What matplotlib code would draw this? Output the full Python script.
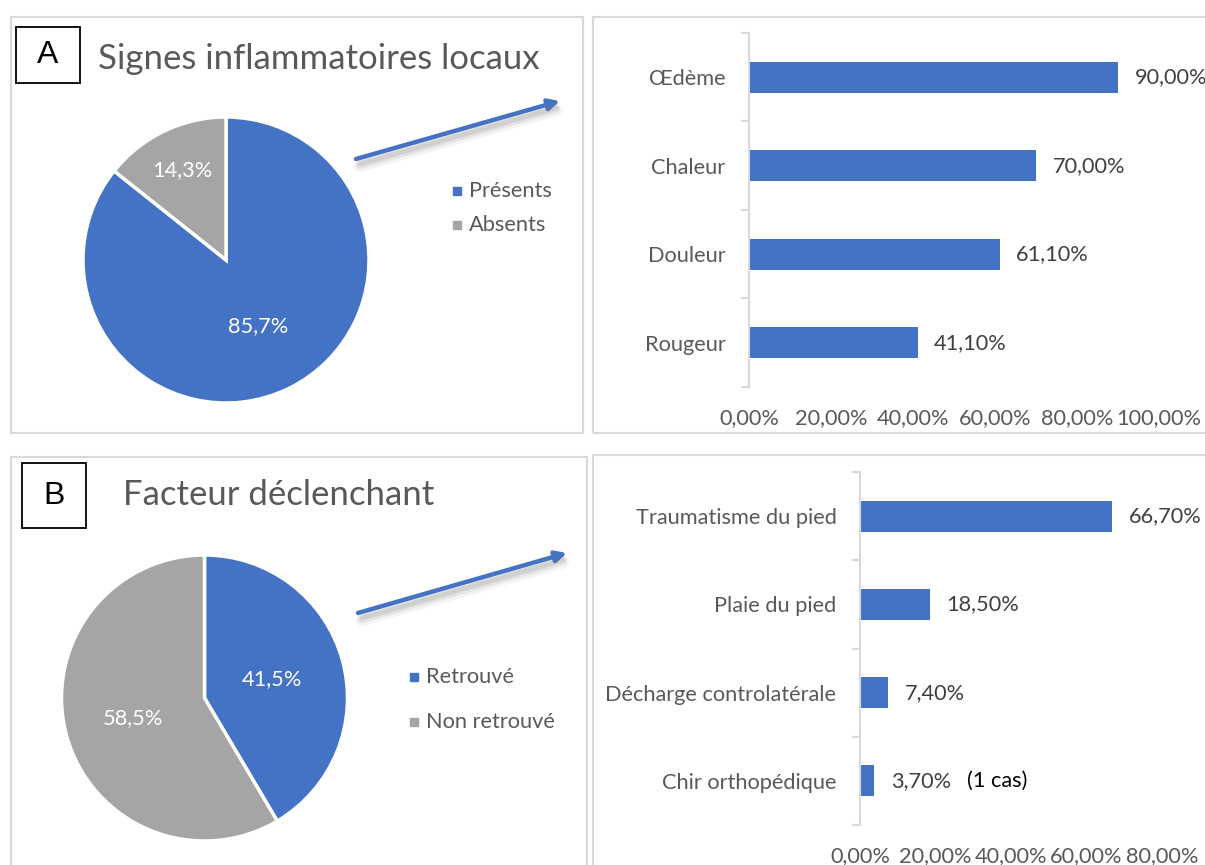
import matplotlib
matplotlib.use('Agg')
import matplotlib.pyplot as plt
from matplotlib.patches import Rectangle, FancyArrowPatch
import numpy as np

# ---- data ----
signes_labels = ['Présents', 'Absents']
signes_vals = [85.7, 14.3]

facteur_labels = ['Retrouvé', 'Non retrouvé']
facteur_vals = [41.5, 58.5]

signes_cats = ['Œdème', 'Chaleur', 'Douleur', 'Rougeur']
signes_pcts = [90.0, 70.0, 61.1, 41.1]

facteur_cats = ['Traumatisme du pied', 'Plaie du pied', 'Décharge controlatérale', 'Chir orthopédique']
facteur_pcts = [66.7, 18.5, 7.4, 3.7]

BLUE = '#4472C4'
GRAY = '#A5A5A5'
TXT = '#595959'
VAL = '#404040'
FRAME = '#D9D9D9'
FS = 15.7

plt.rcParams['font.family'] = ['Lato', 'DejaVu Sans']

W, H = 1205, 865
fig = plt.figure(figsize=(W / 100, H / 100), dpi=100)


def box(x0, y0, x1, y1):
    # pixel box (top-left origin) -> figure fraction rect
    return [x0 / W, 1 - y1 / H, (x1 - x0) / W, (y1 - y0) / H]


def fp(x, y):
    return (x / W, 1 - y / H)


# panel frames
for (x0, y0, x1, y1) in [(11, 17, 583, 433), (593, 17, 1215, 433),
                         (11, 457, 587, 880), (593, 455, 1215, 880)]:
    fig.add_artist(Rectangle(fp(x0, y1), (x1 - x0) / W, (y1 - y0) / H,
                             transform=fig.transFigure, fill=False,
                             edgecolor=FRAME, lw=1.5))


def letter_box(x0, y0, x1, y1, letter):
    fig.add_artist(Rectangle(fp(x0, y1), (x1 - x0) / W, (y1 - y0) / H,
                             transform=fig.transFigure, fill=False,
                             edgecolor='black', lw=1.3))
    fig.text((x0 + x1) / 2 / W, 1 - (y0 + y1) / 2 / H, letter,
             family='Liberation Sans', fontsize=23, ha='center', va='center')


def pie_panel(cx, cy, r, vals, label_dist, legend_labels, leg_x, leg_y):
    ax = fig.add_axes(box(cx - r, cy - r, cx + r, cy + r))
    ax.pie(vals, colors=[BLUE, GRAY], startangle=90, counterclock=False,
           wedgeprops=dict(edgecolor='white', linewidth=2.5))
    ax.set_xlim(-1, 1)
    ax.set_ylim(-1, 1)
    ax.set_aspect('equal')
    ax.axis('off')
    start = 90.0
    for v, d in zip(vals, label_dist):
        mid = np.deg2rad(start - v / 100 * 180)
        start -= v / 100 * 360
        ax.text(d * np.cos(mid), d * np.sin(mid), f'{v:.1f}%'.replace('.', ','),
                color='white', fontsize=FS, ha='center', va='center')
    for lab, col, ly in zip(legend_labels, [BLUE, GRAY], leg_y):
        fig.add_artist(Rectangle(fp(leg_x - 4, ly + 4), 8 / W, 8 / H,
                                 transform=fig.transFigure, color=col))
        fig.text((leg_x + 12) / W, 1 - ly / H, lab, color=TXT, fontsize=FS,
                 ha='left', va='center')


def bar_panel(x0, y0, x1, y1, cats, vals, xmax):
    ax = fig.add_axes(box(x0, y0, x1, y1))
    ypos = np.arange(len(cats))
    ax.barh(ypos, vals, height=0.35, color=BLUE)
    ax.set_xlim(0, xmax)
    ax.set_ylim(len(cats) - 0.5, -0.5)
    for s in ['top', 'right', 'bottom']:
        ax.spines[s].set_visible(False)
    ax.spines['left'].set_color(FRAME)
    ax.spines['left'].set_linewidth(1.5)
    ax.set_yticks(np.arange(len(cats) + 1) - 0.5)
    ax.set_yticklabels([])
    ax.tick_params(axis='y', which='major', length=6, color=FRAME, width=1.5)
    ax.set_yticks(ypos, minor=True)
    ax.set_yticklabels(cats, minor=True, color=TXT, fontsize=FS)
    ax.tick_params(axis='y', which='minor', length=0, pad=17)
    ticks = np.arange(0, xmax + 1, 20)
    ax.set_xticks(ticks)
    ax.set_xticklabels([f'{t:.2f}%'.replace('.', ',') for t in ticks],
                       color=TXT, fontsize=FS)
    ax.tick_params(axis='x', length=0, pad=15)
    ax.patch.set_visible(False)
    for i, v in enumerate(vals):
        ax.annotate(f'{v:.2f}%'.replace('.', ','), xy=(v, i), xytext=(12, 0),
                    textcoords='offset points', va='center', ha='left',
                    color=VAL, fontsize=FS)
    return ax


def arrow(xa, ya, xb, yb):
    # soft shadow under the arrow
    for lw, al, off in [(9, 0.08, 7), (6, 0.12, 6), (3.5, 0.18, 5)]:
        fig.add_artist(plt.Line2D([(xa + 4) / W, (xb - 4) / W],
                                  [1 - (ya + off) / H, 1 - (yb + off + 2) / H],
                                  transform=fig.transFigure, color='#777777',
                                  lw=lw, alpha=al, solid_capstyle='round'))
    a = FancyArrowPatch(fp(xa, ya), fp(xb, yb), transform=fig.transFigure,
                        arrowstyle='-|>', mutation_scale=16, lw=3.2,
                        color=BLUE, shrinkA=0, shrinkB=0)
    fig.add_artist(a)


# ---- panel A ----
letter_box(16, 27, 80, 83, 'A')
fig.text(98 / W, 1 - 59 / H, 'Signes inflammatoires locaux', color=TXT,
         fontsize=25, ha='left', va='center')
pie_panel(226, 260, 143, signes_vals, [0.51, 0.70], signes_labels, 457, [191, 225])
arrow(356, 159, 560, 101)
bar_panel(749, 33, 1159, 387, signes_cats, signes_pcts, 100)

# ---- panel B ----
letter_box(22, 463, 86, 528, 'B')
fig.text(123 / W, 1 - 495 / H, 'Facteur déclenchant', color=TXT,
         fontsize=25, ha='left', va='center')
pie_panel(204.5, 698, 143, facteur_vals, [0.49, 0.52], facteur_labels, 414, [677, 722])
arrow(358, 613, 567, 553)
axb = bar_panel(860, 472, 1162, 825, facteur_cats, facteur_pcts, 80)
axb.annotate('(1 cas)', xy=(facteur_pcts[-1], 3), xytext=(67, 0),
             textcoords='offset points', va='center', ha='left',
             color='black', fontsize=FS)

fig.savefig('out.png', dpi=100)
